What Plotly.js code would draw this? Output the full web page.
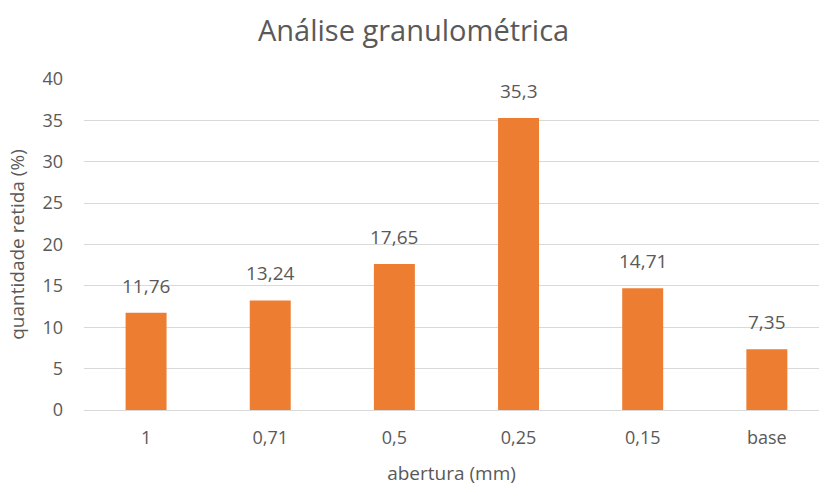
<!DOCTYPE html>
<html>
<head>
<meta charset="utf-8">
<script src="https://cdn.plot.ly/plotly-3.0.1.min.js"></script>
<style>
  html, body { margin: 0; padding: 0; background: #fff; }
  #chart { width: 819px; height: 486px; }
</style>
</head>
<body>
<div id="chart"></div>
<script>
// Sieve openings (mm) and percentage retained on each
const aberturas = ['1', '0,71', '0,5', '0,25', '0,15', 'base'];
const retido = [11.76, 13.24, 17.65, 35.3, 14.71, 7.35];
const yTicks = [0, 5, 10, 15, 20, 25, 30, 35, 40];

const fmt = v => String(v).replace('.', ',');
const gray = '#595959';
const font = 'Open Sans, Noto Sans, sans-serif';

const trace = {
  type: 'bar',
  x: aberturas,
  y: retido,
  marker: { color: '#ED7D31' },
  hoverinfo: 'none'
};

// value labels above each bar (category axis positions are indices)
const labels = aberturas.map((c, i) => ({
  x: i, y: retido[i], xref: 'x', yref: 'y',
  text: fmt(retido[i]), showarrow: false,
  yanchor: 'bottom', yshift: 12,
  font: { family: font, size: 19, color: gray }
}));

const layout = {
  width: 819, height: 486,
  margin: { l: 84, r: 0, t: 79, b: 76 },
  paper_bgcolor: '#fff', plot_bgcolor: '#fff',
  bargap: 0.67,
  showlegend: false,
  title: {
    text: 'Análise granulométrica',
    x: 0.505, xref: 'container', xanchor: 'center',
    y: 0.937, yref: 'container', yanchor: 'middle',
    font: { family: font, size: 29, color: gray }
  },
  xaxis: {
    type: 'category',
    range: [-0.5, 5.42],
    showgrid: false, zeroline: false, showline: false,
    ticks: '', ticklabelstandoff: 15,
    tickfont: { family: font, size: 18, color: gray },
    title: { text: 'abertura (mm)', standoff: 20, font: { family: font, size: 19, color: gray } }
  },
  yaxis: {
    range: [0, 40],
    tickvals: yTicks, ticktext: yTicks.map(String),
    showgrid: true, gridcolor: '#D9D9D9', gridwidth: 1,
    zeroline: true, zerolinecolor: '#D9D9D9', zerolinewidth: 1,
    showline: false, ticks: '', ticklabelstandoff: 20,
    tickfont: { family: font, size: 18, color: gray },
    title: { text: 'quantidade retida (%)', standoff: 12, font: { family: font, size: 19, color: gray } }
  },
  annotations: labels
};

Plotly.newPlot('chart', [trace], layout, { displayModeBar: false, staticPlot: true });
</script>
</body>
</html>
